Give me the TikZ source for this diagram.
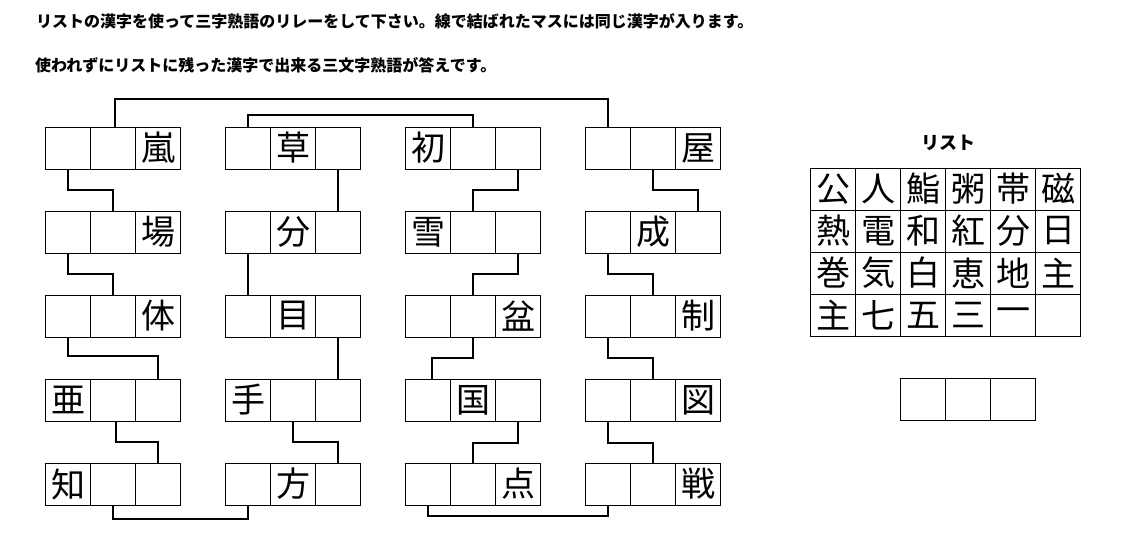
\documentclass[tikz,border=0pt]{standalone}
\usepackage{fontspec}
\setmainfont{Noto Sans CJK JP}
\newfontfamily\jp{Noto Sans CJK JP}
\tikzset{
  cell/.style={draw=black, line width=1pt, minimum width=45pt, minimum height=42pt, inner sep=0pt, outer sep=0pt, font=\jp\fontsize{34}{34}\selectfont},
  conn/.style={draw=black, line width=2pt},
  headtxt/.style={anchor=west, inner sep=0pt, font=\jp\bfseries\fontsize{16}{16}\selectfont},
}
\newcommand\tribox[6]{%
  \node[cell] (#1-1) at (#2+22.5,#3+21) {#4};
  \node[cell] (#1-2) at (#2+67.5,#3+21) {#5};
  \node[cell] (#1-3) at (#2+112.5,#3+21) {#6};
}
\begin{document}
\begin{tikzpicture}[x=1pt,y=-1pt]
\useasboundingbox[fill=white] (0,0) rectangle (1126,547);
\node[headtxt] (h1) at (36,21.5) {リストの漢字を使って三字熟語のリレーをして下さい。線で結ばれたマスには同じ漢字が入ります。};
\node[headtxt] (h2) at (35,65.5) {使われずにリストに残った漢字で出来る三文字熟語が答えです。};
% column A
\tribox{a1}{45.5}{127}{}{}{嵐}
\tribox{a2}{45.5}{211}{}{}{場}
\tribox{a3}{45.5}{295}{}{}{体}
\tribox{a4}{45.5}{379}{亜}{}{}
\tribox{a5}{45.5}{463}{知}{}{}
% column B
\tribox{b1}{225.5}{127}{}{草}{}
\tribox{b2}{225.5}{211}{}{分}{}
\tribox{b3}{225.5}{295}{}{目}{}
\tribox{b4}{225.5}{379}{手}{}{}
\tribox{b5}{225.5}{463}{}{方}{}
% column C
\tribox{c1}{405.5}{127}{初}{}{}
\tribox{c2}{405.5}{211}{雪}{}{}
\tribox{c3}{405.5}{295}{}{}{盆}
\tribox{c4}{405.5}{379}{}{国}{}
\tribox{c5}{405.5}{463}{}{}{点}
% column D
\tribox{d1}{585.5}{127}{}{}{屋}
\tribox{d2}{585.5}{211}{}{成}{}
\tribox{d3}{585.5}{295}{}{}{制}
\tribox{d4}{585.5}{379}{}{}{図}
\tribox{d5}{585.5}{463}{}{}{戦}
% connectors column A
\draw[conn] (a1-1.south) -- ++(0,20.5) -| (a2-2.north);
\draw[conn] (a2-1.south) -- ++(0,20.5) -| (a3-2.north);
\draw[conn] (a3-1.south) -- ++(0,19) -| (a4-3.north);
\draw[conn] ([xshift=3pt]a4-2.south) -- ++(0,21) -| (a5-3.north);
% column B
\draw[conn] (b1-3.south) -- (b2-3.north);
\draw[conn] (b2-1.south) -- (b3-1.north);
\draw[conn] (b3-3.south) -- (b4-3.north);
\draw[conn] (b4-2.south) -- ++(0,21) -| (b5-3.north);
% column C
\draw[conn] (c1-3.south) -- ++(0,20.5) -| (c2-2.north);
\draw[conn] (c2-3.south) -- ++(0,20.5) -| (c3-2.north);
\draw[conn] (c3-2.south) -- ++(0,21) -| ([xshift=4pt]c4-1.north);
\draw[conn] (c4-3.south) -- ++(0,21.5) -| (c5-2.north);
% column D
\draw[conn] (d1-2.south) -- ++(0,20.5) -| (d2-3.north);
\draw[conn] (d2-1.south) -- ++(0,20.5) -| (d3-2.north);
\draw[conn] (d3-1.south) -- ++(0,21) -| (d4-2.north);
\draw[conn] (d4-1.south) -- ++(0,21.5) -| (d5-2.north);
% long connectors
\draw[conn] ([xshift=2pt]a1-2.north) -- ++(0,-28) -| (d1-1.north);
\draw[conn] (b1-1.north) -- ++(0,-12) -| (c1-2.north);
\draw[conn] (a5-2.south) -- ++(0,14) -| (b5-1.south);
\draw[conn] (c5-1.south) -- ++(0,11) -| (d5-1.south);
% list
\node[font=\jp\bfseries\fontsize{18}{18}\selectfont, inner sep=0pt] (lt) at (948,143) {リスト};
\foreach \r/\row in {0/{公,人,鮨,粥,帯,磁},1/{熱,電,和,紅,分,日},2/{巻,気,白,恵,地,主},3/{主,七,五,三,一,{}}}{
  \foreach \k [count=\c from 0] in \row {
    \node[cell] (l\r-\c) at (810.5+22.5+45*\c, 168+21+42*\r) {\k};
  }
}
% answer
\tribox{ans}{900.5}{378}{}{}{}
\end{tikzpicture}
\end{document}
